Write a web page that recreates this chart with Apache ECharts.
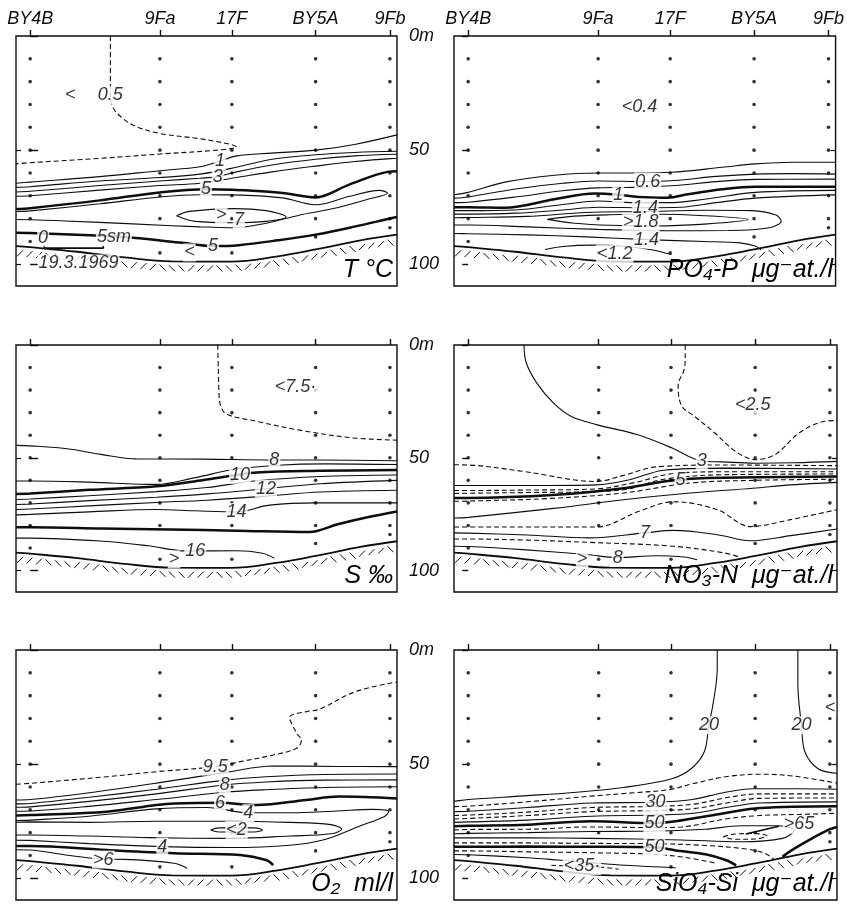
<!DOCTYPE html>
<html><head><meta charset="utf-8">
<script src="https://cdn.jsdelivr.net/npm/echarts@6/dist/echarts.min.js"></script>
<style>html,body{margin:0;padding:0;background:#fff}#c{width:847px;height:905px}</style>
</head><body><div id="c"></div>
<script>
// ---------- DATA ----------
const stationNames = ['BY4B', '9Fa', '17F', 'BY5A', '9Fb'];
const stationPos = [0, 11.0, 17.1, 24.2, 30.5];           // nautical miles
const depthTicks = [0, 50, 100];
const depthTickLabels = ['0m', '50', '100'];
const sampleDepths = [
  [10, 20, 30, 40, 50, 60, 70, 80, 90],
  [10, 20, 30, 40, 50, 60, 70, 80, 95],
  [10, 20, 30, 40, 50, 60, 70, 80, 95],
  [10, 20, 30, 40, 50, 60, 70, 80, 88],
  [10, 20, 30, 40, 50, 60, 70, 80, 84]
];
const bottomProfile = [[-1.2,92],[0,92.5],[4,94.5],[8,97],[12,98.7],[17,98.8],[21,96.5],[24.2,93.5],[28,89.5],[31.1,87]];
const panelTitles = ['T °C', 'PO₄-P  μg⁻at./l', 'S ‰', 'NO₃-N  μg⁻at./l', 'O₂  ml/l', 'SiO₄-Si  μg⁻at./l'];

// Temperature
const T_05 = [[6.8,0],[6.8,12],[6.8,20],[6.8,26],[7.0,31],[7.5,34.5],[8.7,39],[11,42.7],[14.4,45],[17,47.5],[17.5,48.6],[15.8,50],[11,51.7],[5.9,53.6],[0,55.5],[-1.2,56]];
const T_1 = [[-1.2,64.5],[0,64],[5.9,61.6],[11,59],[14.4,57.3],[16.1,54.8],[17.5,52.5],[20.5,51.3],[24.2,50],[27.5,47.5],[31.1,43.3]];
const T_2 = [[-1.2,66.3],[0,66],[5.9,63.5],[11,62],[14.4,60.5],[17.5,57.5],[20.5,54],[24.2,52],[27.5,51],[31.1,50.5]];
const T_3 = [[-1.2,68.3],[0,68],[5.9,65.5],[11,63.5],[14.4,62.3],[15.9,61.6],[17.5,59.5],[20.5,56.5],[24.2,54],[27.5,52.5],[31.1,51.8]];
const T_4 = [[-1.2,70.2],[0,70],[5.9,67.5],[11,65.5],[14.4,64.5],[17.5,62],[20.5,59.5],[24.2,57],[27.5,55],[31.1,53.5]];
const T_5 = [[-1.2,75.8],[0,75.4],[5.9,72],[11,68.5],[14.9,67.1],[17.2,67.3],[18.6,67.7],[21.4,68.8],[24.2,70.7],[27,65.2],[30.4,59.4],[31.1,59.2]];
const T_6 = [[-1.2,76.9],[0,76.6],[5.9,73.5],[11,70.5],[14.4,69.5],[17.2,69.6],[21.4,70.9],[24.2,73.9],[27,70.3],[29.6,67.6],[30.3,68.8],[28.5,71.7],[25.6,75.7],[22.8,78.5],[20,82],[17.2,84],[14.4,83.6],[8.7,82.3],[3,81],[-1.2,80.4]];
const T_7 = [[12.4,78.7],[13.5,76.8],[17.2,75.6],[20,76.5],[21.7,79.2],[20,81.2],[17.2,81.8],[14,81.2],[12.4,78.7]];
const T_5low = [[-1.2,86.2],[0,86.3],[5.6,87.4],[8.7,88.4],[12.9,90.6],[15.5,92],[17.7,91.6],[21,89.5],[24.2,87],[27.5,83.5],[30.7,79.7],[31.1,79.3]];
const T_scaleBar = [[1.2,91.5],[1.2,92.9],[6.2,92.9],[6.2,91.5]];
const T_labels = [[6.8,26,'0.5'],[3.4,26,'<'],[16.1,54.8,'1'],[15.9,61.6,'3'],[14.9,67.1,'5'],[16.2,78.4,'>'],[17.7,80.8,'7'],[15.5,92,'5'],[13.5,94.8,'<'],[1.1,88.3,'0'],[7.1,88.1,'5sm'],[4.1,99.6,'19.3.1969']];

// Phosphate
const P_a = [[-1.2,69.5],[0,68.5],[3.1,64],[7.3,61],[11,60],[14,60],[17.2,59.7],[21.5,57.5],[24.3,56],[27.5,55.3],[31.1,55.3]];
const P_06 = [[-1.2,71],[0,70.5],[4,67],[8,64.5],[11,63.5],[15.2,63.8],[17.5,63.3],[21,61.5],[24.3,60.5],[27.5,60.3],[31.1,60.5]];
const P_c = [[-1.2,73],[0,72.8],[4,70.5],[8,67.8],[11,66.5],[14,66.3],[17.5,65.5],[21,63.8],[24.3,62.8],[31.1,62.7]];
const P_1 = [[-1.2,75],[0,75],[3.1,75.2],[7.3,71.5],[10.7,69],[12.7,69.5],[14.4,70.5],[16.9,70.8],[18.6,69.3],[21.5,67.1],[24.3,66],[31.1,66]];
const P_12 = [[-1.2,76.5],[0,76.5],[4,76.2],[8,73.8],[11,72.3],[14,73],[17,73],[20,71.5],[24.3,68.5],[31.1,67.6]];
const P_14 = [[-1.2,78],[0,78],[4,77.6],[8,76.2],[11,75],[15,75.2],[18,75],[21,73],[24.3,71],[31.1,69.6]];
const P_16 = [[-1.2,79.6],[0,79.5],[5,79],[10,77.3],[15,76.9],[20,76.3],[24,76.5],[26,78.3],[26.5,81],[25.5,84],[22,85.2],[17,85.3],[11,84.7],[5,83.6],[0,82.8],[-1.2,82.8]];
const P_18 = [[6.7,80.3],[9,78.9],[12,78.3],[15.8,78.1],[20,78.7],[23.7,80.4],[20,82.4],[15.8,83.2],[12,82.9],[9,82],[6.7,80.3]];
const P_14low = [[-1.2,86.5],[0,86.6],[5,87.1],[10,88],[15.1,89.2],[20,90],[23,90.6],[24.3,92],[24.8,93.7]];
const P_12low = [[6.5,93.5],[8,92.2],[10.5,91.6],[13.5,92.2],[15.5,93.6],[17.2,95.7]];
const P_labels = [[14.5,31,'<0.4'],[15.2,63.8,'0.6'],[12.7,69.8,'1'],[15,75.2,'1.4'],[14.6,81.6,'>1.8'],[15.1,89.2,'1.4'],[12.4,95.4,'<1.2']];

// Salinity
const S_75 = [[15.9,0],[15.95,10],[16.0,20],[16.1,26],[16.6,30.5],[18.9,33.5],[23.1,38],[27.4,41.2],[31.1,42.2]];
const S_8 = [[-1.2,44.5],[0,44.7],[3.3,46.1],[6,48.5],[9,50.5],[14.7,50.6],[20.7,51],[24.6,51],[31.1,51.3]];
const S_9 = [[-1.2,60.3],[0,60.3],[5,60.8],[10.7,61.8],[14,58.8],[17.2,55.2],[21,53.3],[25,52.7],[31.1,53]];
const S_10 = [[-1.2,66],[0,65.8],[5,64.2],[10.7,62.6],[14.7,59.8],[17.5,57.6],[19.2,56.5],[24.6,55.8],[31.1,55.4]];
const S_11 = [[-1.2,68.5],[0,68.3],[5,66.8],[10.7,65],[15,63.2],[19,60.3],[24.6,58.3],[31.1,57.6]];
const S_12 = [[-1.2,70.7],[0,70.5],[5,69],[10.7,67.5],[15,66],[20,63.7],[24.6,61.5],[31.1,60]];
const S_13 = [[-1.2,72.9],[0,72.7],[5,71.3],[10.7,69.8],[15,68.8],[20,67],[24.6,65.2],[31.1,64.4]];
const S_14 = [[-1.2,75.3],[0,75.1],[5,74],[10.7,72.9],[14,73.5],[17.5,74],[20.3,71],[24.3,70],[31.1,70]];
const S_15 = [[-1.2,80.8],[0,80.8],[6,81.3],[11.8,81.8],[17.5,82.3],[23.7,82.9],[26,79.6],[28.5,76.5],[31.1,73.8]];
const S_16 = [[-1.2,85.6],[0,85.6],[6.2,87],[10,89],[13.2,91.3],[17.5,91.2],[19.7,92.3],[20.7,94.5]];
const S_labels = [[22.5,18.6,'<7.5·'],[20.7,51,'8'],[17.8,57.6,'10'],[20,63.7,'12'],[17.5,74,'14'],[14,91.3,'16'],[12.2,95,'>']];

// Nitrate
const N_3 = [[4.7,0],[4.9,8],[5.8,17],[7.2,25.8],[8.7,31.7],[10.9,35.4],[14.3,39.8],[17.2,45.7],[18.6,49.4],[19.7,51.4],[21.4,51.8],[24.2,52.4],[27.5,52.2],[31.1,51.6]];
const N_25 = [[18.3,0],[18.3,5],[18.2,11],[17.7,18],[18,27],[19.1,31.7],[20.8,39],[22.5,47],[24.2,50.8],[25.9,48.5],[27.9,39],[29.9,34],[31.1,33.5]];
const N_A = [[-1.2,53.1],[0,53.2],[4.6,56],[10.8,60.5],[13.1,57.8],[15.9,54],[21.6,53.2],[31.1,53.5]];
const N_B = [[-1.2,62.3],[0,62.3],[5,62.3],[10.8,62],[13.6,59.7],[16.5,55.5],[21.6,54.6],[31.1,55]];
const N_C = [[-1.2,64.5],[0,64.5],[5,64.3],[10.8,63.8],[14,61],[17.3,57],[21.6,56.2],[31.1,56.2]];
const N_D = [[-1.2,65.8],[0,65.7],[5,65.4],[10.8,65],[13.5,63.8],[16.5,59.5],[21.6,57.5],[31.1,57.2]];
const N_5 = [[-1.2,67.8],[0,67.8],[7.4,66.4],[13.1,63.5],[16.5,60.5],[17.9,59.7],[20.1,59],[31.1,58.3]];
const N_E = [[-1.2,69.3],[0,69.2],[7,68],[13.1,65.6],[18.7,61.2],[24,60],[31.1,59.5]];
const N_G = [[-1.2,76.7],[0,76.4],[7.4,72.3],[13.1,68.6],[18.7,65.6],[24,63.5],[27.2,62],[31.1,60.9]];
const N_H = [[-1.2,80.7],[0,80.7],[5,80.7],[10.8,80.7],[14.5,73.5],[17.3,69.5],[21,73],[23.8,80.5],[27.2,77.4],[31.1,73]];
const N_7 = [[-1.2,83.3],[0,83.4],[5,84.2],[10.2,85.5],[14.9,83.3],[17.3,82.2],[21,84.1],[23.8,86.8],[27.2,84.5],[31.1,81.6]];
const N_J = [[-1.2,86],[0,86],[5,86.5],[10.2,87.5],[17.3,89.2],[21.6,92.2],[23,94.2]];
const N_8 = [[-1.2,89.2],[0,89.3],[4.6,90.7],[10,92.9],[12.5,94.2],[15.9,93.4],[18.2,94],[19.3,95.2]];
const N_labels = [[24,26.5,'<2.5'],[19.7,51.4,'3'],[17.9,59.7,'5'],[14.9,83.3,'7'],[12.6,94.3,'8'],[9.6,95,'>']];

// Oxygen
const O_95 = [[-1.2,58.8],[0,58.4],[6.5,55.5],[10.7,53.3],[15.7,51.1],[17.8,48.9],[20.6,46],[22.6,43],[23,39.4],[22.6,36.5],[22,29.5],[23.4,27],[24.5,26],[27.6,18.2],[31.1,14]];
const O_9 = [[-1.2,65.7],[0,65.5],[5,62.5],[10.7,58.3],[16.7,53.5],[20.6,50.8],[26,51],[31.1,51.1]];
const O_85 = [[-1.2,67.4],[0,67.2],[5,64.5],[10.7,61],[16.5,57],[20,55.5],[25,54.5],[31.1,54.3]];
const O_8 = [[-1.2,68.9],[0,68.7],[5,66.3],[10.7,63],[16.5,59.1],[20,57.8],[25,57],[31.1,56.9]];
const O_7 = [[-1.2,70.6],[0,70.5],[5,68.5],[10.7,65.5],[16.5,62.3],[20,61.2],[25,60.2],[31.1,59.9]];
const O_6 = [[-1.2,72.5],[0,72.3],[6.5,70.8],[10.7,67.9],[12.2,67.2],[16.1,66.9],[19.2,67.9],[23.4,65.7],[26.2,64.2],[31.1,65]];
const O_4 = [[-1.2,74.7],[0,74.5],[5,72.8],[10.7,69.6],[15,69],[18.5,71.3],[22,71.3],[26,70.5],[29,69.8],[30.4,70.8],[30,73],[28,77],[25,83],[22,85.5],[17,86.5],[11.2,86.1],[5,84.8],[0,83.4],[-1.2,83.3]];
const O_3 = [[-1.2,75.5],[0,75.3],[5,75.5],[10.7,75],[17,75],[22,75.5],[25.5,76.5],[26.4,78.5],[25.5,80.5],[22,81.5],[17,82.5],[10,82.2],[5,81.5],[0,81],[-1.2,81]];
const O_2 = [[15.3,78.8],[16,77.9],[19,77.9],[19.7,78.8],[19,79.7],[16,79.7],[15.3,78.8]];
const O_6low = [[-1.2,85.8],[0,85.8],[6.5,87.6],[12.2,89],[17.8,89.8],[20,92],[20.6,94.2]];
const O_6b = [[-1.2,87.5],[0,87.6],[3,89.8],[6.2,91.6],[7.9,91.7],[12.2,93.4],[13.3,95.6]];
const O_labels = [[15.7,51.1,'9.5'],[16.5,59.1,'8'],[16.1,66.9,'6'],[18.5,71.5,'4'],[17.5,78.8,'<2'],[11.2,86.1,'4'],[6.2,91.8,'>6']];

// Silicate
const Si_20a = [[21,0],[21,8],[20.9,15],[20.6,25],[20.3,32.9],[19.9,44.7],[18.8,52],[17.1,56.5],[13.1,60.2],[8.9,62.4],[4.7,63.9],[0,65.5],[-1.2,66.3]];
const Si_20b = [[27.8,0],[27.8,15],[28.1,32.9],[28.4,44.7],[29.5,52],[31.1,54]];
const Si_25 = [[-1.2,68.6],[0,68.4],[5,66.5],[10.4,64],[14,62.5],[16.9,61.2],[19,58.5],[21.7,55.5],[24.6,54.4],[27.4,55.2],[31.1,58.3]];
const Si_30 = [[-1.2,70.8],[0,70.6],[5,69],[10.4,67],[15.8,66.7],[18.9,65.5],[21.5,62.5],[24,60.8],[27.5,60.8],[31.1,61]];
const Si_35 = [[-1.2,72.5],[0,72.3],[5,71],[10.4,69],[15.8,68.5],[19,67.5],[22,64.5],[24.5,63],[31.1,63]];
const Si_40 = [[-1.2,74],[0,73.8],[5,72.5],[10.4,70.8],[15.8,70.3],[19,69.5],[22,66.8],[24.5,65],[31.1,64.8]];
const Si_45 = [[-1.2,75.5],[0,75.3],[5,74.5],[10.4,72.8],[15.8,72.3],[19,71.5],[22,68.8],[24.5,67],[31.1,66.5]];
const Si_50 = [[-1.2,77.2],[0,77],[5,76.5],[10.4,75],[15.7,75.8],[17.5,75],[21.7,71.4],[24.6,69.2],[31.1,68.4]];
const Si_55 = [[-1.2,78.8],[0,78.6],[5,78.5],[10.4,77.5],[15.7,77.8],[18,77.5],[21.7,74],[24.6,72.5],[28,72],[31.1,71.5]];
const Si_60 = [[-1.2,80.5],[0,80.3],[5,80],[10.4,79.5],[16,79.3],[20,78.5],[23,77],[26,77],[27.5,79],[26.5,82.5],[23,84],[18,83.2],[10.4,82.5],[5,82.3],[0,82.3],[-1.2,82.3]];
const Si_65 = [[21.5,81.8],[22.5,80.6],[24.2,80.4],[25.2,81.4],[24.2,82.8],[22.5,82.9],[21.5,81.8]];
const Si_65arrow = [[23.4,80.6],[26.2,77.2]];
const Si_55low = [[-1.2,84.5],[0,84.5],[5,84.5],[10.4,84.7],[15,84.8],[20,85.6],[23.5,87.2],[25,89],[25.8,91.8]];
const Si_50low = [[-1.2,86.2],[0,86.2],[5,86.1],[10.4,86.2],[15.7,86.4],[17.5,87.8],[20,89.5],[21.7,92],[22.6,94.3]];
const Si_45low = [[-1.2,88],[0,88],[5,88.4],[10.4,88.8],[15.7,89.5],[18.5,91],[21,93.5]];
const Si_40low = [[-1.2,89.6],[0,89.7],[5,91],[7.6,92],[10,93],[13.3,94.3],[17.5,95.4]];
const Si_35low = [[7,94.3],[8.5,94.6],[11,95],[12.7,96]];
const Si_50right = [[26.5,90.5],[27.5,87],[29,82.5],[30.5,78.5],[31.1,77.5]];
const Si_labels = [[20.3,32.9,'20'],[28.1,32.9,'20'],[30.5,25.5,'<'],[15.8,66.7,'30'],[15.7,75.8,'50'],[27.9,76.4,'>65'],[15.7,86.4,'50'],[9.6,94.6,'<35·']];

// ---------- LAYOUT / STYLE ----------
const FONT = "'Liberation Sans','DejaVu Sans',Arial,sans-serif";
const xMin = -1.2, xMax = 31.1, yMax = 109.5;
const colLeft = [16, 454], colWidth = [381, 383];
const rowTop = [36, 345, 650], rowHeight = [250, 247, 250];
const INK = '#0d0d0d';
const STYLE = {
  thin: {color: INK, width: 1.1},
  thick: {color: INK, width: 2.5},
  dash: {color: INK, width: 1.1, type: [5, 3]},
  bar: {color: INK, width: 1.7}
};

const panels = [
  {lines: [[T_05,'dash'],[T_1,'thin'],[T_2,'thin'],[T_3,'thin'],[T_4,'thin'],[T_5,'thick'],[T_6,'thin'],[T_7,'thin'],[T_5low,'thick'],[T_scaleBar,'bar']], labels: T_labels},
  {lines: [[P_a,'thin'],[P_06,'thin'],[P_c,'thin'],[P_1,'thick'],[P_12,'thin'],[P_14,'thin'],[P_16,'thin'],[P_18,'thin'],[P_14low,'thin'],[P_12low,'thin']], labels: P_labels},
  {lines: [[S_75,'dash'],[S_8,'thin'],[S_9,'thin'],[S_10,'thick'],[S_11,'thin'],[S_12,'thin'],[S_13,'thin'],[S_14,'thin'],[S_15,'thick'],[S_16,'thin']], labels: S_labels},
  {lines: [[N_3,'thin'],[N_25,'dash'],[N_A,'dash'],[N_B,'thin'],[N_C,'dash'],[N_D,'dash'],[N_5,'thick'],[N_E,'dash'],[N_G,'thin'],[N_H,'dash'],[N_7,'thin'],[N_J,'dash'],[N_8,'thin']], labels: N_labels},
  {lines: [[O_95,'dash'],[O_9,'thin'],[O_85,'thin'],[O_8,'thin'],[O_7,'thin'],[O_6,'thick'],[O_4,'thin'],[O_3,'thin'],[O_2,'thin'],[O_6low,'thick'],[O_6b,'thin']], labels: O_labels},
  {lines: [[Si_20a,'thin'],[Si_20b,'thin'],[Si_25,'dash'],[Si_30,'thin'],[Si_35,'dash'],[Si_40,'dash'],[Si_45,'thin'],[Si_50,'thick'],[Si_55,'dash'],[Si_60,'thin'],[Si_65,'dash'],[Si_65arrow,'bar'],[Si_55low,'dash'],[Si_50low,'thick'],[Si_45low,'dash'],[Si_40low,'thin'],[Si_35low,'dash'],[Si_50right,'thick']], labels: Si_labels}
];

function hatchRender(params, api) {
  const pts = bottomProfile.map(p => api.coord(p));
  const children = [];
  const step = 9.5;
  let i = 0;
  let x = pts[0][0] + 4;
  const xEnd = pts[pts.length - 1][0] - 3;
  while (x < xEnd) {
    let k = 0;
    while (k < pts.length - 2 && pts[k + 1][0] < x) k++;
    const t = (x - pts[k][0]) / (pts[k + 1][0] - pts[k][0]);
    const y = pts[k][1] + t * (pts[k + 1][1] - pts[k][1]);
    const fwd = Math.floor(i / 3) % 2 === 0;
    children.push({
      type: 'line',
      shape: fwd ? {x1: x - 3, y1: y + 10, x2: x + 3, y2: y + 4}
                 : {x1: x - 3, y1: y + 4, x2: x + 3, y2: y + 10},
      style: {stroke: INK, lineWidth: 1}
    });
    x += step; i++;
  }
  return {type: 'group', children};
}

const grid = [], xAxis = [], yAxis = [], series = [], graphic = [];
panels.forEach((p, i) => {
  const col = i % 2, row = Math.floor(i / 2);
  grid.push({left: colLeft[col], top: rowTop[row], width: colWidth[col], height: rowHeight[row],
    show: true, borderColor: INK, borderWidth: 1.4, backgroundColor: 'transparent'});
  xAxis.push({gridIndex: i, type: 'value', min: xMin, max: xMax, position: 'top',
    axisLine: {show: false}, splitLine: {show: false},
    axisTick: {show: true, customValues: stationPos, length: 6, lineStyle: {color: INK, width: 1.4}},
    axisLabel: {show: row === 0, customValues: stationPos, margin: 8,
      formatter: v => stationNames[stationPos.indexOf(v)] || '',
      color: INK, fontSize: 18, fontStyle: 'italic', fontFamily: FONT}});
  yAxis.push({gridIndex: i, type: 'value', inverse: true, min: 0, max: yMax,
    position: col === 0 ? 'right' : 'left',
    axisLine: {show: false}, splitLine: {show: false},
    axisTick: {show: true, customValues: depthTicks, length: col === 0 ? 8 : 6, lineStyle: {color: INK, width: 1.4}},
    axisLabel: {show: col === 0, customValues: depthTicks, margin: 12,
      formatter: v => depthTickLabels[depthTicks.indexOf(v)] || '',
      color: INK, fontSize: 18, fontStyle: 'italic', fontFamily: FONT}});
  yAxis.push({gridIndex: i, type: 'value', inverse: true, min: 0, max: yMax,
    position: col === 0 ? 'left' : 'right',
    axisLine: {show: false}, splitLine: {show: false},
    axisTick: {show: true, inside: true, customValues: [50, 100], length: 5, lineStyle: {color: INK, width: 1.2}},
    axisLabel: {show: false}});
  const xi = i, yi = 2 * i;
  p.lines.forEach(([data, kind]) => {
    series.push({type: 'line', xAxisIndex: xi, yAxisIndex: yi, data: data,
      smooth: kind === 'bar' ? false : 0.35, symbol: 'none', silent: true, z: 3,
      lineStyle: STYLE[kind], clip: true});
  });
  // sea bottom
  series.push({type: 'line', xAxisIndex: xi, yAxisIndex: yi, data: bottomProfile, smooth: 0.4,
    symbol: 'none', silent: true, z: 3, lineStyle: {color: INK, width: 1.8}});
  series.push({type: 'custom', xAxisIndex: xi, yAxisIndex: yi, data: [[0, 0]], renderItem: hatchRender,
    silent: true, z: 2, clip: true});
  // sampling points
  const dots = [];
  stationPos.forEach((sx, s) => sampleDepths[s].forEach(d => dots.push([sx, d])));
  series.push({type: 'scatter', xAxisIndex: xi, yAxisIndex: yi, data: dots, symbolSize: 3.6,
    itemStyle: {color: '#000'}, silent: true, z: 4});
  // contour labels
  series.push({type: 'scatter', xAxisIndex: xi, yAxisIndex: yi,
    data: p.labels.map(l => ({value: [l[0], l[1]], name: l[2]})),
    symbolSize: 1, itemStyle: {color: 'rgba(0,0,0,0)'}, silent: true, z: 6,
    label: {show: true, position: 'inside', formatter: q => q.name, color: '#000',
      textBorderWidth: 0, fontSize: 18, fontStyle: 'italic', fontFamily: FONT,
      backgroundColor: '#fff', padding: [0, 1], lineHeight: 18}});
  // panel title
  graphic.push({type: 'text', z: 10, silent: true,
    x: colLeft[col] + colWidth[col] - 4, y: rowTop[row] + rowHeight[row] - 3,
    style: {text: panelTitles[i], fill: '#000', font: 'italic 25px ' + FONT,
      align: 'right', verticalAlign: 'bottom', textAlign: 'right', textVerticalAlign: 'bottom'}});
});

const chart = echarts.init(document.getElementById('c'), null, {renderer: 'canvas'});
chart.setOption({animation: false, backgroundColor: '#fff', grid, xAxis, yAxis, series, graphic});
</script>
</body></html>
